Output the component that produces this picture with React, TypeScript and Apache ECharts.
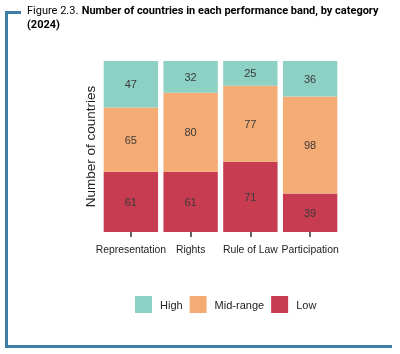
import React, { useEffect, useRef } from "react";
import * as echarts from "echarts";

const categories = ["Representation", "Rights", "Rule of Law", "Participation"];
const lowValues = [61, 61, 71, 39];
const midValues = [65, 80, 77, 98];
const highValues = [47, 32, 25, 36];
const legendOrder = ["High", "Mid-range", "Low"];

const COLORS: Record<string, string> = {
  High: "#8dd1c4",
  "Mid-range": "#f5ac74",
  Low: "#c73c50",
};

export default function App() {
  const ref = useRef<HTMLDivElement>(null);
  useEffect(() => {
    if (!ref.current) return;
    const chart = echarts.init(ref.current, null, { renderer: "svg" });
    const totals = categories.map((_, i) => lowValues[i] + midValues[i] + highValues[i]);
    const maxTotal = Math.max(...totals);
    const mk = (name: string, data: number[]) => ({
      name,
      type: "bar",
      stack: "total",
      data,
      barCategoryGap: "9%",
      itemStyle: { color: COLORS[name] },
      label: {
        show: true,
        position: "inside",
        color: "#3a3a3a",
        fontSize: 11,
        fontFamily: "Liberation Sans, Arial, sans-serif",
      },
    });
    chart.setOption({
      animation: false,
      textStyle: { fontFamily: "Liberation Sans, Arial, sans-serif" },
      grid: { left: 101, right: 60, top: 61, bottom: 122 },
      legend: {
        data: legendOrder,
        left: 135,
        top: 296,
        padding: 0,
        itemWidth: 17,
        itemHeight: 17,
        itemGap: 7,
        icon: "rect",
        textStyle: { fontSize: 11, color: "#222", padding: [0, 0, 0, 3] },
      },
      xAxis: {
        type: "category",
        data: categories,
        offset: 6,
        axisLine: { show: false },
        axisTick: { show: true, length: 5, alignWithLabel: true, lineStyle: { color: "#333", width: 1.5 } },
        axisLabel: { color: "#222", fontSize: 10.4, margin: 6, interval: 0 },
      },
      yAxis: {
        type: "value",
        min: 0,
        max: maxTotal,
        name: "Number of countries",
        nameLocation: "middle",
        nameGap: 4,
        nameTextStyle: { fontSize: 13.5, color: "#222" },
        axisLine: { show: false },
        axisTick: { show: false },
        axisLabel: { show: false },
        splitLine: { show: false },
      },
      series: [mk("Low", lowValues), mk("Mid-range", midValues), mk("High", highValues)],
      graphic: [
        {
          type: "polyline",
          shape: { points: [[21, 12.5], [6.5, 12.5], [6.5, 346.5], [392, 346.5]] },
          style: { stroke: "#3f7fa6", lineWidth: 3, fill: "none" },
        },
        {
          type: "text",
          x: 27,
          y: 3,
          style: {
            text: "{a|Figure 2.3.} {b|Number of countries in each performance band, by category}\n{b|(2024)}",
            rich: {
              a: { fontSize: 11, fontFamily: "Roboto", color: "#5a9cc4", lineHeight: 14 },
              b: { fontSize: 11, fontFamily: "Roboto", fontWeight: "bold", color: "#222", lineHeight: 14 },
            },
          },
        },
      ],
    });
    return () => chart.dispose();
  }, []);
  return <div ref={ref} style={{ position: "fixed", left: 0, top: 0, width: 400, height: 354 }} />;
}
